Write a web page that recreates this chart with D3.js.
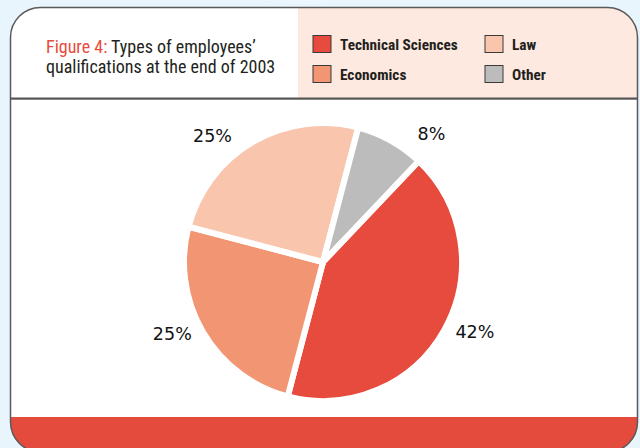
<!DOCTYPE html>
<html><head><meta charset="utf-8">
<script src="https://cdn.jsdelivr.net/npm/d3@7/dist/d3.min.js"></script>
<style>
html,body{margin:0;padding:0;background:#e9f5fc;}
svg{display:block;}
.cond{font-family:"Liberation Sans Narrow","Roboto Condensed","Arial Narrow",sans-serif;}
</style></head>
<body>
<svg id="chart" width="640" height="448"></svg>
<script>
const categories = ["Technical Sciences", "Economics", "Law", "Other"];
const values = [42, 25, 25, 8];
const colors = ["#e64b3d", "#f29573", "#f9c5ad", "#bcbcbc"];
const labels = ["42%", "25%", "25%", "8%"];

const svg = d3.select("#chart");
const W = 640, H = 448;
const L = 10.5, R = 637.5, T = 7.5, B = 452, rad = 30;

const cardPath = `M${L},${T+rad} A${rad},${rad} 0 0 1 ${L+rad},${T} L${R-rad},${T} A${rad},${rad} 0 0 1 ${R},${T+rad} L${R},${B-rad} A${rad},${rad} 0 0 1 ${R-rad},${B} L${L+rad},${B} A${rad},${rad} 0 0 1 ${L},${B-rad} Z`;

const defs = svg.append("defs");
const g1 = defs.append("radialGradient").attr("id","glow").attr("cx","0.5").attr("cy","0").attr("r","0.6");
g1.append("stop").attr("offset","0").attr("stop-color","#ffffff");
g1.append("stop").attr("offset","1").attr("stop-color","#e9f5fc");
svg.append("rect").attr("width",W).attr("height",H).attr("fill","#e9f5fc");
svg.append("ellipse").attr("cx",305).attr("cy",0).attr("rx",70).attr("ry",22).attr("fill","url(#glow)");

defs.append("clipPath").attr("id","card").append("path").attr("d",cardPath);

const card = svg.append("g").attr("clip-path","url(#card)");
card.append("rect").attr("x",0).attr("y",0).attr("width",W).attr("height",H).attr("fill","#ffffff");
card.append("rect").attr("x",298).attr("y",0).attr("width",W-298).attr("height",98).attr("fill","#fde9df");
card.append("rect").attr("x",0).attr("y",417).attr("width",W).attr("height",60).attr("fill","#e54b3c");
card.append("rect").attr("x",0).attr("y",97.5).attr("width",W).attr("height",2.2).attr("fill","#555");
svg.append("path").attr("d",cardPath).attr("fill","none").attr("stroke","#5a5a5a").attr("stroke-width",1.5);

// Title
const title = svg.append("text").attr("class","cond").attr("x",46).attr("y",53)
  .attr("font-size",18).attr("fill","#231f20");
title.append("tspan").attr("fill","#e84b3c").text("Figure 4:");
title.append("tspan").text(" Types of employees’");
svg.append("text").attr("class","cond").attr("x",46).attr("y",73)
  .attr("font-size",18).attr("fill","#231f20").text("qualifications at the end of 2003");

// Legend
const lx = d3.scaleOrdinal().domain([0,1]).range([313, 485]);
const ly = d3.scaleOrdinal().domain([0,1]).range([35.5, 65.5]);
categories.forEach((name, k) => {
  const col = Math.floor(k/2), row = k%2;
  const gx = lx(col), gy = ly(row);
  svg.append("rect").attr("x",gx).attr("y",gy).attr("width",18).attr("height",17)
    .attr("fill",colors[k]).attr("stroke","#3a3a3a").attr("stroke-width",1);
  svg.append("text").attr("class","cond").attr("x",gx+27).attr("y",gy+14.5)
    .attr("font-size",15.3).attr("font-weight","bold").attr("fill","#231f20").text(name);
});

// Pie
const cx = 323, cy = 262, r = 139;
const startA = 43.5*Math.PI/180;
const pie = d3.pie().sort(null).value(d=>d).startAngle(startA).endAngle(startA+2*Math.PI);
const arcs = pie(values);
const arc = d3.arc().innerRadius(0).outerRadius(r);
const pg = svg.append("g").attr("transform",`translate(${cx},${cy})`);
pg.selectAll("path").data(arcs).join("path")
  .attr("d",arc).attr("fill",(d,i)=>colors[i])
  .attr("stroke","#ffffff").attr("stroke-width",6).attr("stroke-linejoin","miter");

// outside-end labels: radial position plus horizontal push away from the pie
const lr = 112, push = 54, ry = 145;
const mid = d => (d.startAngle + d.endAngle) / 2;
pg.selectAll("text").data(arcs).join("text")
  .attr("x",d=>lr*Math.sin(mid(d)) + push*Math.sign(Math.sin(mid(d))))
  .attr("y",d=>-ry*Math.cos(mid(d)) - 1)
  .attr("dy","0.35em").attr("text-anchor","middle")
  .attr("font-family","'DejaVu Sans', Verdana, sans-serif").attr("font-size",17.5)
  .attr("fill","#111").text((d,i)=>labels[i]);
</script>
</body></html>
